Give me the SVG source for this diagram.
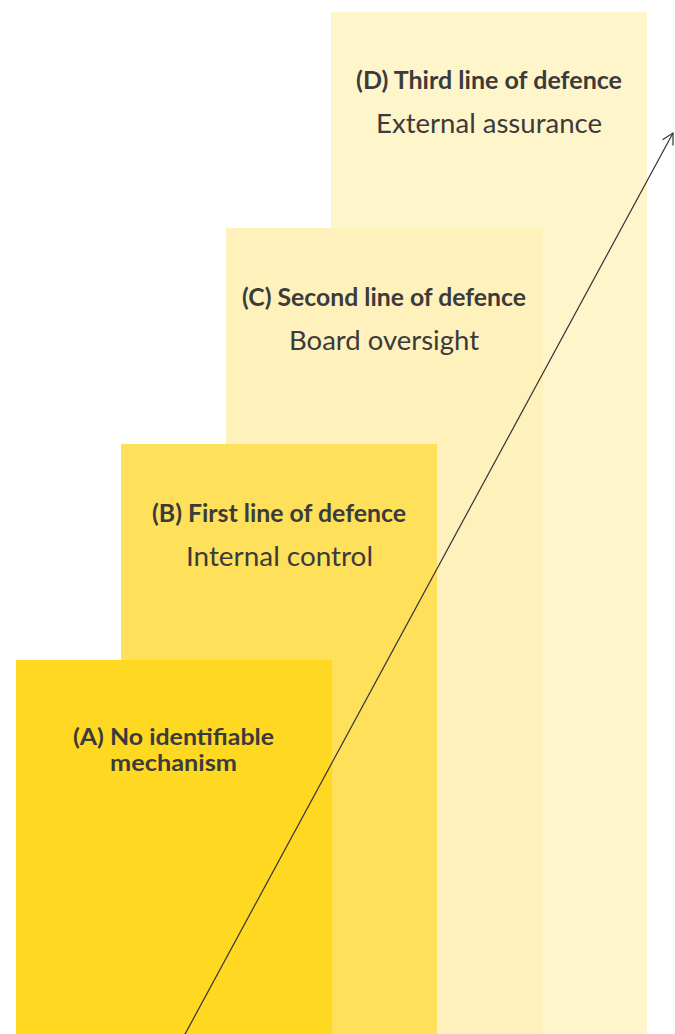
<svg xmlns="http://www.w3.org/2000/svg" width="675" height="1034" viewBox="0 0 675 1034">
<style>
.h{font-family:Lato,"Open Sans","Liberation Sans",sans-serif;font-weight:bold;font-size:24px;fill:#3b3b3b;text-anchor:middle}
.a{font-size:22.5px}
.s{font-family:Lato,"Open Sans","Liberation Sans",sans-serif;font-size:26.5px;fill:#3b3b3b;text-anchor:middle}
</style>
<defs>
<marker id="ah" markerWidth="14" markerHeight="14" refX="12" refY="7" orient="auto" markerUnits="userSpaceOnUse">
<path d="M1,1 L12,7 L1,13" fill="none" stroke="#333" stroke-width="1.2"/>
</marker>
</defs>
<rect width="675" height="1034" fill="#fff"/>
<g id="nodeD">
<rect x="331" y="12" width="316" height="1022" fill="#FFF5CB"/>
<text class="h" x="489" y="89" textLength="266" lengthAdjust="spacingAndGlyphs">(D) Third line of defence</text>
<text class="s" x="489" y="133" textLength="226" lengthAdjust="spacingAndGlyphs">External assurance</text>
</g>
<g id="nodeC">
<rect x="226" y="228" width="317" height="806" fill="#FFF1BC"/>
<text class="h" x="384" y="305.5" textLength="284" lengthAdjust="spacingAndGlyphs">(C) Second line of defence</text>
<text class="s" x="384" y="350" textLength="190" lengthAdjust="spacingAndGlyphs">Board oversight</text>
</g>
<g id="nodeB">
<rect x="121" y="444" width="316" height="590" fill="#FFE05A"/>
<text class="h" x="279" y="521.5" textLength="254" lengthAdjust="spacingAndGlyphs">(B) First line of defence</text>
<text class="s" x="279.5" y="566" textLength="187" lengthAdjust="spacingAndGlyphs">Internal control</text>
</g>
<g id="nodeA">
<rect x="16" y="660" width="316" height="374" fill="#FFD822"/>
<text class="h a" x="173.5" y="745" textLength="201" lengthAdjust="spacingAndGlyphs">(A) No identifiable</text>
<text class="h a" x="173.5" y="771" textLength="127" lengthAdjust="spacingAndGlyphs">mechanism</text>
</g>
<g id="connectors">
<line x1="184" y1="1036" x2="673" y2="133" stroke="#333" stroke-width="1.2" marker-end="url(#ah)"/>
</g>
</svg>
